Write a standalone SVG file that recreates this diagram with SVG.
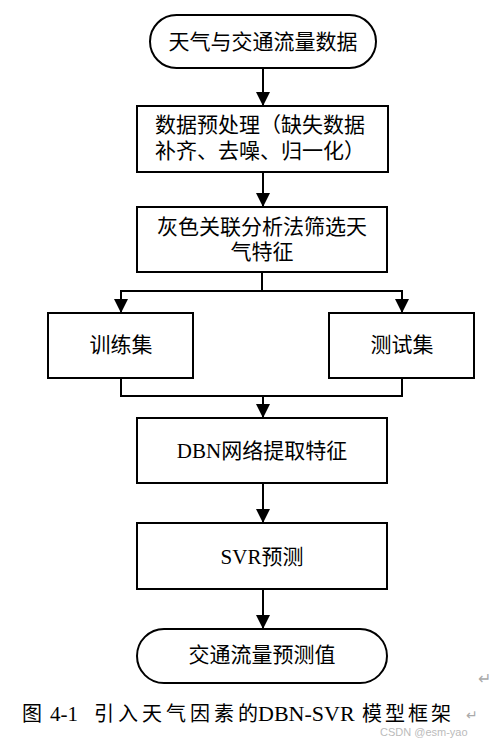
<svg xmlns="http://www.w3.org/2000/svg" width="503" height="738" viewBox="0 0 503 738">
<style>
.n{fill:#fff;stroke:#000;stroke-width:2}
.t{font-family:"Liberation Serif","Noto Sans CJK SC",serif;font-size:21px;fill:#000;text-anchor:middle;dominant-baseline:central}
.l{text-anchor:start}
.c{fill:none;stroke:#000;stroke-width:2}
.cap{font-family:"Liberation Serif","Noto Sans CJK SC",serif;font-size:20px;fill:#000}
</style>
<defs>
<marker id="a" viewBox="0 0 14 14" refX="14" refY="7" markerWidth="14" markerHeight="14" markerUnits="userSpaceOnUse" orient="auto">
<path d="M0,0 L14,7 L0,14 z" fill="#000"/>
</marker>
</defs>
<rect width="503" height="738" fill="#fff"/>
<g id="connectors">
<line class="c" x1="263" y1="68" x2="263" y2="106" marker-end="url(#a)"/>
<line class="c" x1="263" y1="172" x2="263" y2="207" marker-end="url(#a)"/>
<polyline class="c" points="262,272 262,291"/>
<polyline class="c" points="121,312 121,291 402,291 402,312"/>
<line class="c" x1="121" y1="298" x2="121" y2="313" marker-end="url(#a)"/>
<line class="c" x1="402" y1="298" x2="402" y2="313" marker-end="url(#a)"/>
<polyline class="c" points="121,378 121,396 402,396 402,378"/>
<line class="c" x1="263" y1="396" x2="263" y2="418" marker-end="url(#a)"/>
<line class="c" x1="263" y1="483" x2="263" y2="523" marker-end="url(#a)"/>
<line class="c" x1="263" y1="589" x2="263" y2="629" marker-end="url(#a)"/>
</g>
<g id="n1"><rect class="n" x="150" y="15" width="226" height="53" rx="26.5"/><text class="t" x="263" y="42">天气与交通流量数据</text></g>
<g id="n2"><rect class="n" x="137" y="106" width="251" height="66"/><text class="t l" x="155" y="125">数据预处理（缺失数据</text><text class="t l" x="155" y="151">补齐、去噪、归一化）</text></g>
<g id="n3"><rect class="n" x="137" y="207" width="250" height="65"/><text class="t" x="262" y="227">灰色关联分析法筛选天</text><text class="t" x="262" y="252">气特征</text></g>
<g id="n4"><rect class="n" x="48" y="313" width="145" height="65"/><text class="t" x="121" y="345">训练集</text></g>
<g id="n5"><rect class="n" x="329" y="313" width="145" height="65"/><text class="t" x="402" y="345">测试集</text></g>
<g id="n6"><rect class="n" x="137" y="418" width="250" height="65"/><text class="t" x="262" y="451">DBN网络提取特征</text></g>
<g id="n7"><rect class="n" x="137" y="523" width="250" height="66"/><text class="t" x="262" y="557">SVR预测</text></g>
<g id="n8"><rect class="n" x="137" y="629" width="250" height="54" rx="27"/><text class="t" x="262" y="655">交通流量预测值</text></g>
<text x="478" y="684" font-family="Liberation Sans,sans-serif" font-size="16" fill="#aaa">↵</text>
<text class="cap" y="721"><tspan x="22">图</tspan><tspan x="50" font-size="21">4-1</tspan><tspan x="94" letter-spacing="4">引入天气因素的</tspan><tspan x="258" font-size="22">DBN-SVR</tspan><tspan x="362" letter-spacing="3">模型框架</tspan></text>
<text x="466" y="720" font-family="Liberation Sans,sans-serif" font-size="14" fill="#aaa">↵</text>
<text x="380" y="736" font-family="Liberation Sans,sans-serif" font-size="11" fill="#bbb">CSDN @esm-yao</text>
</svg>
